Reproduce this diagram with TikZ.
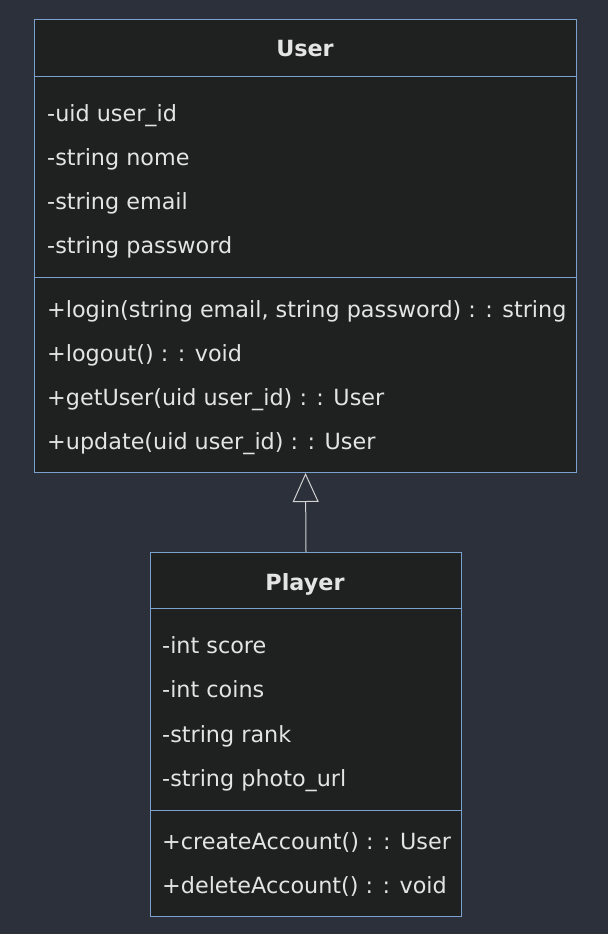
\documentclass[tikz,border=0pt]{standalone}
\usepackage{fontspec}
\setmainfont{DejaVu Sans}
\usetikzlibrary{arrows.meta}
\definecolor{bgc}{RGB}{43,48,59}
\definecolor{boxc}{RGB}{31,32,32}
\definecolor{edgec}{RGB}{122,162,204}
\definecolor{txtc}{RGB}{228,228,228}
\definecolor{arrc}{RGB}{210,210,210}
\tikzset{
  classbox/.style={draw=edgec, fill=boxc, line width=1pt, inner sep=0pt, anchor=north west},
  member/.style={anchor=base west, inner sep=0pt, text=txtc, font=\fontsize{22.3}{27}\selectfont},
  ctitle/.style={anchor=base, inner sep=0pt, text=txtc, font=\fontsize{22.3}{27}\selectfont\bfseries},
  sep/.style={draw=edgec, line width=1pt},
}
\begin{document}
\begin{tikzpicture}[x=1pt,y=-1pt]
\fill[bgc] (0,0) rectangle (608,934);
\useasboundingbox (0,0) rectangle (608,934);
% User box
\node[classbox, minimum width=542pt, minimum height=453pt] (user) at (34,19) {};
\coordinate (u1) at (34,76); \coordinate (u1r) at (576,76);
\coordinate (u2) at (34,277); \coordinate (u2r) at (576,277);
\draw[sep] (u1) -- (u1r);
\draw[sep] (u2) -- (u2r);
\node[ctitle] (utitle) at (305,57) {User};
\node[member] (ua1) at (47,121) {-uid user\_id};
\node[member] (ua2) at (47,165) {-string nome};
\node[member] (ua3) at (47,209) {-string email};
\node[member] (ua4) at (47,253) {-string password};
\node[member] (um1) at (47,317) {+login(string email, string password) : : string};
\node[member] (um2) at (47,361) {+logout() : : void};
\node[member] (um3) at (47,405) {+getUser(uid user\_id) : : User};
\node[member] (um4) at (47,449) {+update(uid user\_id) : : User};
% Player box
\node[classbox, minimum width=311pt, minimum height=364pt] (player) at (150,552) {};
\coordinate (p1) at (150,608); \coordinate (p1r) at (461,608);
\coordinate (p2) at (150,810); \coordinate (p2r) at (461,810);
\draw[sep] (p1) -- (p1r);
\draw[sep] (p2) -- (p2r);
\node[ctitle] (ptitle) at (305,590) {Player};
\node[member] (pa1) at (162,653) {-int score};
\node[member] (pa2) at (162,697) {-int coins};
\node[member] (pa3) at (162,742) {-string rank};
\node[member] (pa4) at (162,786) {-string photo\_url};
\node[member] (pm1) at (162,849) {+createAccount() : : User};
\node[member] (pm2) at (162,893) {+deleteAccount() : : void};
% inheritance
\draw[arrc, line width=1pt, -{Triangle[open, length=29pt, width=26pt, fill=bgc]}] (player.north) -- (user.south);
\end{tikzpicture}
\end{document}
